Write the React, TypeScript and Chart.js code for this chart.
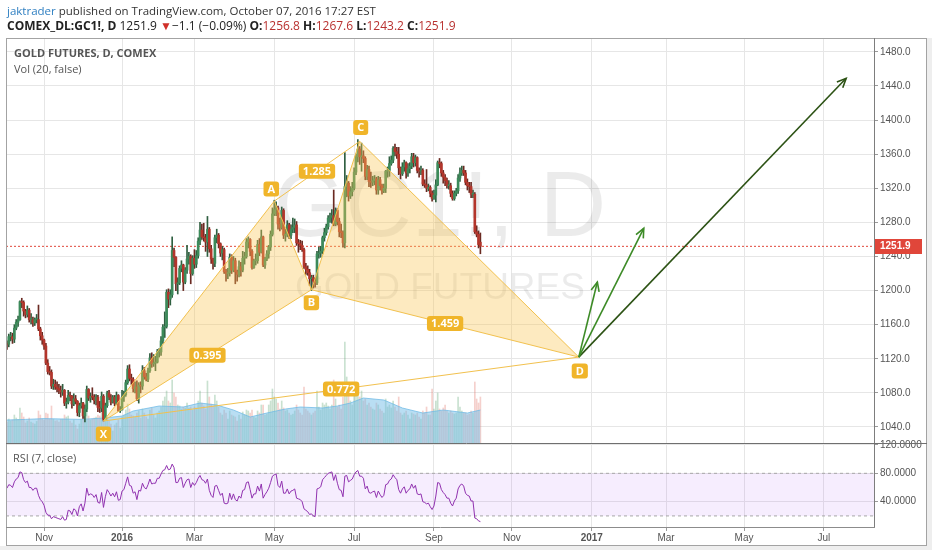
import React, { useEffect, useRef } from 'react';
import { Chart, registerables } from 'chart.js';

Chart.register(...registerables);

// ---------------- data (daily bars, Oct 5 2015 .. Oct 7 2016) ----------------
const opens = [
  1138,1137,1146,1146,1143,1156,1163,1166,1187,1186,1176,1172,1177,1166,1166,1162,1166,1166,1155,1147,
  1142,1135,1115,1105,1104,1088,1090,1087,1085,1083,1081,1083,1068,1069,1077,1076,1067,1073,1070,1057,
  1065,1068,1053,1061,1084,1074,1076,1075,1071,1075,1063,1062,1076,1049,1065,1080,1075,1069,1075,1068,1077,1059,
  1060,1075,1078,1092,1108,1097,1096,1085,1087,1073,1089,1088,1106,1099,1096,1106,1121,1114,1115,
  1116,1128,1128,1141,1157,1158,1198,1190,1195,1247,1239,1208,1209,1226,1230,1210,1224,1237,1240,1220,
  1238,1231,1241,1258,1271,1263,1262,1257,1272,1249,1237,1232,1262,1265,1255,1244,1248,1222,1220,1221,1239,1224,
  1235,1222,1219,1228,1224,1238,1240,1257,1260,1246,1227,1235,1235,1254,1245,1263,1230,1237,1243,1251,1266,
  1290,1295,1297,1278,1274,1294,1265,1266,1277,1265,1272,1274,1277,1256,1255,1253,1248,1228,1225,1221,1214,
  1215,1211,1209,1243,1244,1246,1262,1268,1275,1285,1286,1288,1278,1294,1281,1269,1268,1256,1322,1326,1311,1316,
  1320,1339,1357,1366,1357,1358,1355,1334,1342,1328,1327,1329,1331,1318,1330,1323,1317,1320,1340,1341,
  1349,1353,1367,1363,1360,1344,1337,1345,1350,1338,1343,1346,1357,1350,1356,1341,1340,1341,1325,1324,1320,1321,1314,
  1308,1312,1324,1350,1349,1338,1333,1329,1323,1323,1314,1308,1314,1317,1332,1338,1341,1338,1327,1323,1322,
  1313,1313,1269,1266,1256.8,
];
const highs = [
  1141,1149,1151,1150,1160,1166,1170,1188,1191,1188,1178,1182,1179,1173,1169,1168,1172,1183,1157,1151,
  1143,1138,1119,1111,1107,1096,1095,1093,1090,1088,1090,1084,1074,1083,1081,1077,1079,1077,1071,1068,
  1074,1069,1066,1088,1085,1080,1086,1078,1078,1077,1070,1081,1078,1068,1082,1083,1078,1077,1077,1081,1078,1064,
  1083,1082,1095,1112,1113,1102,1098,1093,1094,1092,1093,1112,1110,1103,1109,1126,1127,1125,1123,
  1131,1132,1146,1160,1175,1201,1202,1201,1263,1250,1240,1215,1229,1235,1231,1227,1253,1245,1242,1241,
  1248,1247,1262,1280,1278,1279,1266,1287,1274,1253,1238,1265,1272,1267,1256,1252,1250,1225,1226,1243,1242,1240,
  1238,1224,1235,1233,1246,1245,1261,1263,1261,1248,1237,1243,1259,1261,1271,1264,1239,1247,1253,1270,1297,
  1306,1304,1299,1285,1298,1296,1272,1282,1279,1277,1285,1284,1281,1260,1259,1258,1250,1232,1229,1225,1218,
  1218,1215,1246,1251,1252,1264,1273,1278,1288,1291,1295,1318,1297,1296,1285,1278,1270,1362,1335,1328,1322,1327,
  1344,1360,1377,1369,1373,1364,1357,1347,1346,1339,1334,1335,1333,1334,1333,1325,1325,1341,1345,1357,
  1358,1369,1372,1368,1368,1345,1350,1353,1351,1349,1350,1361,1361,1359,1357,1344,1346,1343,1330,1342,1325,1323,1317,
  1318,1330,1352,1355,1351,1341,1336,1332,1329,1326,1317,1317,1320,1336,1344,1346,1346,1341,1331,1327,1327,
  1318,1315,1276,1270,1267.6,
];
const lows = [
  1131,1134,1141,1138,1139,1154,1158,1165,1180,1170,1168,1169,1163,1161,1158,1159,1162,1153,1142,1137,
  1131,1113,1102,1101,1085,1084,1084,1081,1079,1075,1077,1065,1062,1067,1071,1062,1065,1067,1053,1052,
  1062,1050,1046,1058,1071,1069,1072,1067,1066,1058,1057,1058,1047,1049,1063,1072,1066,1068,1065,1066,1058,1057,
  1060,1070,1076,1090,1094,1090,1081,1080,1071,1068,1080,1084,1096,1094,1093,1104,1110,1111,1106,
  1115,1122,1124,1138,1145,1156,1180,1183,1192,1228,1200,1196,1207,1222,1200,1208,1220,1231,1208,1218,
  1226,1227,1238,1254,1260,1258,1246,1240,1245,1232,1225,1228,1256,1250,1240,1236,1220,1211,1214,1217,1220,1222,
  1208,1211,1216,1217,1222,1231,1238,1250,1241,1225,1226,1230,1232,1241,1244,1228,1226,1235,1238,1247,1264,
  1288,1288,1272,1270,1272,1261,1258,1263,1261,1261,1268,1268,1253,1245,1248,1246,1226,1219,1218,1206,1200,
  1203,1204,1207,1238,1239,1243,1258,1265,1272,1280,1279,1276,1276,1277,1263,1262,1251,1250,1310,1305,1308,1311,
  1318,1336,1351,1348,1340,1350,1330,1330,1322,1321,1323,1324,1313,1313,1318,1313,1315,1315,1333,1334,
  1347,1350,1358,1355,1336,1331,1335,1340,1332,1334,1338,1343,1345,1346,1338,1333,1336,1323,1321,1316,1317,1310,1305,
  1307,1304,1323,1344,1334,1326,1323,1320,1319,1310,1306,1306,1311,1314,1328,1335,1335,1324,1318,1315,1309,
  1309,1267,1263,1250,1243.2,
];
const closes = [
  1137,1146,1146,1143,1156,1163,1166,1187,1186,1176,1172,1177,1166,1166,1162,1166,1166,1155,1147,1142,
  1135,1115,1105,1104,1088,1090,1087,1085,1083,1081,1083,1068,1069,1077,1076,1067,1073,1070,1057,1065,
  1068,1053,1061,1084,1074,1076,1075,1071,1075,1063,1062,1076,1049,1065,1080,1075,1069,1075,1068,1077,1059,1060,
  1075,1078,1092,1108,1097,1096,1085,1087,1073,1089,1088,1106,1099,1096,1106,1121,1114,1115,1116,
  1128,1128,1141,1157,1158,1198,1190,1195,1247,1239,1208,1209,1226,1230,1210,1224,1237,1240,1220,1238,
  1231,1241,1258,1271,1263,1262,1257,1272,1249,1237,1232,1262,1265,1255,1244,1248,1222,1220,1221,1239,1224,1235,
  1222,1219,1228,1224,1238,1240,1257,1260,1246,1227,1235,1235,1254,1245,1263,1230,1237,1243,1251,1266,1290,
  1295,1297,1278,1274,1294,1265,1266,1277,1265,1272,1274,1277,1256,1255,1253,1248,1228,1225,1221,1214,1215,
  1211,1209,1243,1244,1246,1262,1268,1275,1285,1286,1288,1278,1294,1281,1269,1268,1256,1322,1326,1311,1316,1320,
  1339,1357,1366,1357,1358,1355,1334,1342,1328,1327,1329,1331,1318,1330,1323,1317,1320,1340,1341,1349,
  1353,1367,1363,1360,1344,1337,1345,1350,1338,1343,1346,1357,1350,1356,1341,1340,1341,1325,1324,1320,1321,1314,1308,
  1312,1324,1350,1349,1338,1333,1329,1323,1323,1314,1308,1314,1317,1332,1338,1341,1338,1327,1323,1322,1313,
  1313,1269,1266,1254,1251.9,
];
// volume, thousands of contracts
const volumes = [
  105,120,110,115,140,125,118,175,150,130,100,110,125,105,100,95,108,160,140,120,
  115,150,145,120,185,118,110,112,105,118,120,140,130,135,110,100,115,90,70,95,
  120,140,160,190,135,115,120,125,130,140,135,175,185,150,120,110,95,60,90,100,115,75,
  130,140,165,195,170,140,135,130,150,160,125,170,150,130,120,165,175,140,125,
  150,160,180,210,230,260,210,200,315,250,230,190,185,170,180,175,200,175,180,165,
  180,175,210,260,200,185,170,310,230,195,185,240,210,180,150,140,165,150,120,160,140,135,
  130,110,140,120,155,140,165,160,150,165,130,125,160,150,190,190,140,145,190,210,270,
  230,220,200,170,210,175,160,165,150,140,145,160,190,165,150,140,280,170,160,150,140,
  150,160,260,180,165,200,190,200,185,170,190,315,220,180,190,170,230,505,330,240,210,190,
  260,250,300,230,260,210,220,190,200,180,170,165,200,190,170,160,150,220,180,190,
  175,210,180,160,230,150,140,150,160,140,120,150,145,140,150,130,120,160,150,180,140,140,270,
  170,210,250,170,160,175,190,160,150,160,150,145,150,230,180,160,150,150,140,145,160,
  150,305,220,200,230,
];
// Vol (20) moving-average curve, read at a few bars
const volMaIdx = [0, 10, 20, 30, 40, 52, 62, 68, 82, 95, 104, 113, 122, 131, 140, 150, 158, 170, 178, 185, 192, 203, 213, 224, 235, 248, 255];
const volMaVal = [115, 118, 122, 120, 118, 125, 135, 160, 185, 180, 200, 190, 165, 130, 150, 170, 180, 175, 185, 200, 225, 215, 175, 150, 165, 150, 165];
// RSI (7, close)
const rsiValues = [
  59,64,63,60,68,72,74,82,81,71,67,69,60,60,56,59,59,49,43,40,
  35,25,21,21,16,19,18,17,16,15,19,14,15,28,27,22,30,28,20,33,
  37,27,38,59,49,51,50,46,50,39,38,53,32,47,57,53,48,52,47,54,42,43,
  55,57,66,75,63,62,52,54,43,56,55,66,60,58,64,72,65,66,66,
  73,73,79,84,85,91,85,86,93,88,67,67,73,74,60,66,71,72,60,67,
  63,67,73,77,71,70,66,72,56,49,46,62,63,56,49,52,38,37,38,52,43,51,
  43,41,48,45,56,57,67,68,57,45,51,51,62,55,65,45,50,54,59,67,76,
  78,79,63,60,69,52,52,58,51,55,56,58,45,44,43,40,30,28,26,22,23,
  20,19,58,59,61,71,74,77,80,81,82,70,78,66,57,56,47,76,77,68,70,72,
  78,82,84,76,76,73,58,62,53,52,54,55,46,55,50,46,49,64,65,70,
  72,78,74,71,57,52,58,61,52,56,58,65,59,63,51,50,51,40,39,37,38,33,29,
  34,48,67,66,57,53,50,45,45,38,34,41,45,58,63,65,62,52,49,48,41,
  41,17,16,13,12,
];
const rsiBand = [20, 80];

// axis ticks
const xTickIdx = [20, 62, 101, 144, 187, 230, 272, 315, 355, 397, 440];
const xTickLabels = ['Nov', '2016', 'Mar', 'May', 'Jul', 'Sep', 'Nov', '2017', 'Mar', 'May', 'Jul'];
const xBoldLabels = ['2016', '2017'];
const priceTicks = [1040, 1080, 1120, 1160, 1200, 1240, 1280, 1320, 1360, 1400, 1440, 1480];
const rsiTicks = [40, 80, 120];
const lastPrice = 1251.9;

// harmonic pattern X A B C D
const patternNames = ['X', 'A', 'B', 'C', 'D'];
const patternIdx = [52, 144, 164, 190, 308];
const patternPrice = [1047, 1305, 1201, 1375, 1122];
const ratioText = ['0.395', '1.285', '1.459', '0.772'];
const ratioFrom = [0, 1, 2, 0];
const ratioTo = [2, 3, 4, 4];
// projection arrows from D
const arrowTipIdx = [318, 343, 452];
const arrowTipPrice = [1210, 1273, 1449];
const arrowColors = ['#3d8b27', '#3d8b27', '#2c5214'];

const X_MIN = -0.5;
const X_MAX = 467;

const AXIS_FONT = '"Liberation Sans", Arial, sans-serif';
const UI_FONT = '"Open Sans", "Liberation Sans", sans-serif';
const UP = '#3c8a5a';
const DOWN = '#b3352b';
const PAT_LINE = '#f2c14e';
const PAT_FILL = 'rgba(250,200,90,0.38)';
const TAG = '#f0b52a';

function tag(ctx: any, text: string, cx: number, cy: number) {
  ctx.font = 'bold 11px ' + UI_FONT;
  const w = Math.max(15, ctx.measureText(text).width + 8);
  const h = 15;
  const x = cx - w / 2, y = cy - h / 2, r = 3;
  ctx.beginPath();
  ctx.moveTo(x + r, y);
  ctx.lineTo(x + w - r, y);
  ctx.quadraticCurveTo(x + w, y, x + w, y + r);
  ctx.lineTo(x + w, y + h - r);
  ctx.quadraticCurveTo(x + w, y + h, x + w - r, y + h);
  ctx.lineTo(x + r, y + h);
  ctx.quadraticCurveTo(x, y + h, x, y + h - r);
  ctx.lineTo(x, y + r);
  ctx.quadraticCurveTo(x, y, x + r, y);
  ctx.closePath();
  ctx.fillStyle = TAG;
  ctx.fill();
  ctx.fillStyle = '#ffffff';
  ctx.textAlign = 'center';
  ctx.textBaseline = 'middle';
  ctx.fillText(text, cx, cy + 0.5);
}

const decorPlugin = {
  id: 'decor',
  beforeDraw(chart: any) {
    const ctx = chart.ctx;
    ctx.save();
    ctx.fillStyle = '#ffffff';
    ctx.fillRect(0, 0, chart.width, chart.height);
    ctx.fillStyle = '#eeeeee';
    ctx.fillRect(927, 38, chart.width - 927, chart.height - 38);
    ctx.fillRect(0, 546, chart.width, chart.height - 546);
    ctx.restore();
  },
  beforeDatasetsDraw(chart: any) {
    const ctx = chart.ctx;
    const ys = chart.scales.y;
    const area = chart.chartArea;
    const cx = (area.left + area.right) / 2;
    const cy = (ys.top + ys.bottom) / 2;
    ctx.save();
    ctx.beginPath();
    ctx.rect(area.left, ys.top, area.right - area.left, ys.bottom - ys.top);
    ctx.clip();
    ctx.fillStyle = 'rgba(0,0,0,0.08)';
    ctx.textAlign = 'center';
    ctx.textBaseline = 'middle';
    ctx.font = '92px ' + AXIS_FONT;
    ctx.fillText('GC1!, D', cx, cy - 30);
    ctx.font = '37px ' + AXIS_FONT;
    ctx.fillText('GOLD FUTURES', cx, cy + 48);
    ctx.restore();
  },
  afterDatasetsDraw(chart: any) {
    const ctx = chart.ctx;
    const xs = chart.scales.x;
    const ys = chart.scales.y;
    const px = patternIdx.map((v) => xs.getPixelForValue(v));
    const py = patternPrice.map((v) => ys.getPixelForValue(v));
    ctx.save();
    // arrow heads
    arrowTipIdx.forEach((ti, k) => {
      const tx = xs.getPixelForValue(ti);
      const ty = ys.getPixelForValue(arrowTipPrice[k]);
      const ang = Math.atan2(ty - py[4], tx - px[4]);
      ctx.strokeStyle = arrowColors[k];
      ctx.lineWidth = 1.6;
      ctx.beginPath();
      ctx.moveTo(tx - 10 * Math.cos(ang - 0.42), ty - 10 * Math.sin(ang - 0.42));
      ctx.lineTo(tx, ty);
      ctx.lineTo(tx - 10 * Math.cos(ang + 0.42), ty - 10 * Math.sin(ang + 0.42));
      ctx.stroke();
    });
    // ratio tags
    ratioText.forEach((t, k) => {
      const a = ratioFrom[k], b = ratioTo[k];
      tag(ctx, t, (px[a] + px[b]) / 2, (py[a] + py[b]) / 2);
    });
    // point tags
    const dxs = [0, -3, 0, 1, 1];
    const dys = [13, -12, 13, -14, 14];
    patternNames.forEach((nm, k) => tag(ctx, nm, px[k] + dxs[k], py[k] + dys[k]));
    ctx.restore();
  },
  afterDraw(chart: any) {
    const ctx = chart.ctx;
    const ys = chart.scales.y;
    const area = chart.chartArea;
    ctx.save();
    ctx.lineWidth = 1;
    // outer frame
    ctx.strokeStyle = '#a3a3a3';
    ctx.strokeRect(6.5, 38.5, 920, 507);
    // price axis divider
    ctx.strokeStyle = '#7d7d7d';
    ctx.beginPath();
    ctx.moveTo(area.right + 0.5, 38);
    ctx.lineTo(area.right + 0.5, area.bottom + 1);
    ctx.stroke();
    // pane separator
    ctx.strokeStyle = '#6f6f6f';
    ctx.beginPath();
    ctx.moveTo(6, ys.bottom + 0.5);
    ctx.lineTo(927, ys.bottom + 0.5);
    ctx.stroke();
    // time axis line
    ctx.strokeStyle = '#8c8c8c';
    ctx.beginPath();
    ctx.moveTo(6, area.bottom + 0.5);
    ctx.lineTo(area.right + 1, area.bottom + 0.5);
    ctx.stroke();
    // last price label
    const y = ys.getPixelForValue(lastPrice);
    ctx.fillStyle = '#e0463a';
    ctx.fillRect(area.right + 1, Math.round(y) - 7, 47, 15);
    ctx.fillStyle = '#ffffff';
    ctx.font = 'bold 10px ' + AXIS_FONT;
    ctx.textAlign = 'left';
    ctx.textBaseline = 'middle';
    ctx.fillText(lastPrice.toFixed(1), area.right + 6, Math.round(y) + 0.5);
    ctx.restore();
  },
};

export default function App() {
  const canvasRef = useRef<HTMLCanvasElement | null>(null);

  useEffect(() => {
    const canvas = canvasRef.current;
    if (!canvas) return;

    const bodies = opens.map((o, i) => ({ x: i, y: [o, closes[i]] }));
    const bodyColors = opens.map((o, i) => (closes[i] >= o ? UP : DOWN));
    const wicks = lows.map((l, i) => ({ x: i, y: [l, highs[i]] }));
    const wickColors = opens.map((o, i) => (closes[i] >= o ? '#2f5f40' : '#6a2a22'));
    const volData = volumes.map((v, i) => ({ x: i, y: v }));
    const volColors = opens.map((o, i) => (closes[i] >= o ? 'rgba(100,170,120,0.35)' : 'rgba(225,120,110,0.35)'));
    const maData = volMaIdx.map((x, k) => ({ x, y: volMaVal[k] }));
    const rsiData = rsiValues.map((v, i) => ({ x: i, y: v }));
    const pt = (k: number) => ({ x: patternIdx[k], y: patternPrice[k] });
    const line = (extra: any) => ({
      type: 'line',
      pointRadius: 0,
      pointHoverRadius: 0,
      borderWidth: 1,
      tension: 0,
      fill: false,
      yAxisID: 'y',
      ...extra,
    });

    const datasets: any[] = [
      line({ data: [{ x: X_MIN, y: rsiBand[1] }, { x: X_MAX, y: rsiBand[1] }], yAxisID: 'rsi', borderColor: '#a8a8a8', borderDash: [3, 3], order: 100 }),
      line({ data: [{ x: X_MIN, y: rsiBand[0] }, { x: X_MAX, y: rsiBand[0] }], yAxisID: 'rsi', borderColor: '#a8a8a8', borderDash: [3, 3], fill: { value: rsiBand[1] }, backgroundColor: 'rgba(150,60,240,0.09)', order: 101 }),
      { type: 'bar', data: volData, yAxisID: 'vol', backgroundColor: volColors, barThickness: 1, grouped: false, order: 90 },
      line({ data: maData, yAxisID: 'vol', borderColor: 'rgba(110,185,230,0.75)', backgroundColor: 'rgba(115,190,232,0.5)', fill: 'origin', order: 85 }),
      line({ data: [{ x: X_MIN, y: lastPrice }, { x: X_MAX, y: lastPrice }], borderColor: '#e0463a', borderDash: [2, 2], order: 80 }),
      { type: 'bar', data: wicks, yAxisID: 'y', backgroundColor: wickColors, barThickness: 1, grouped: false, order: 70 },
      { type: 'bar', data: bodies, yAxisID: 'y', backgroundColor: bodyColors, barThickness: 2, minBarLength: 1, grouped: false, order: 60 },
      line({ data: [pt(0), pt(1), pt(2), pt(0)], borderColor: PAT_LINE, backgroundColor: PAT_FILL, fill: 'shape', order: 40 }),
      line({ data: [pt(2), pt(3), pt(4), pt(2)], borderColor: PAT_LINE, backgroundColor: PAT_FILL, fill: 'shape', order: 41 }),
      line({ data: [pt(1), pt(3)], borderColor: PAT_LINE, order: 30 }),
      line({ data: [pt(0), pt(4)], borderColor: PAT_LINE, order: 31 }),
      ...arrowTipIdx.map((ti, k) =>
        line({ data: [pt(4), { x: ti, y: arrowTipPrice[k] }], borderColor: arrowColors[k], borderWidth: 1.6, order: 20 + k })
      ),
      line({ data: rsiData, yAxisID: 'rsi', borderColor: '#9132b0', borderWidth: 1, order: 10 }),
    ];

    const gridColor = '#e6e6e6';
    const tickFont = { family: AXIS_FONT, size: 10 };

    const chart = new Chart(canvas, {
      type: 'bar',
      data: { datasets },
      plugins: [decorPlugin],
      options: {
        responsive: false,
        maintainAspectRatio: false,
        animation: false,
        devicePixelRatio: 1,
        events: [],
        layout: { padding: { left: 6, top: 38, right: 6, bottom: 5 } },
        plugins: { legend: { display: false }, tooltip: { enabled: false } },
        scales: {
          x: {
            type: 'linear',
            min: X_MIN,
            max: X_MAX,
            offset: false,
            grid: { color: gridColor, offset: false, tickLength: 4, tickColor: '#9a9a9a' },
            border: { display: false },
            afterBuildTicks: (s: any) => {
              s.ticks = xTickIdx.map((v) => ({ value: v }));
            },
            afterFit: (s: any) => {
              s.height = 18;
            },
            ticks: {
              autoSkip: false,
              maxRotation: 0,
              padding: 1,
              color: '#555',
              font: (c: any) => ({
                family: AXIS_FONT,
                size: 10,
                weight: c.tick && xBoldLabels.includes(String(c.tick.label)) ? 'bold' : 'normal',
              }),
              callback: (v: any) => {
                const k = xTickIdx.indexOf(Number(v));
                return k >= 0 ? xTickLabels[k] : '';
              },
            },
          },
          y: {
            type: 'linear',
            position: 'right',
            stack: 'panes',
            stackWeight: 405,
            min: 1021.2,
            max: 1496.3,
            grid: { color: gridColor, tickLength: 4, tickColor: '#9a9a9a' },
            border: { display: false },
            afterBuildTicks: (s: any) => {
              s.ticks = priceTicks.map((v) => ({ value: v }));
            },
            afterFit: (s: any) => {
              s.width = 52;
            },
            ticks: { color: '#555', font: tickFont, padding: 2, callback: (v: any) => Number(v).toFixed(1) },
          },
          rsi: {
            type: 'linear',
            position: 'right',
            stack: 'panes',
            stackWeight: 84,
            min: 4.4,
            max: 122.7,
            grid: { color: gridColor, tickLength: 4, tickColor: '#9a9a9a' },
            border: { display: false },
            afterBuildTicks: (s: any) => {
              s.ticks = rsiTicks.map((v) => ({ value: v }));
            },
            afterFit: (s: any) => {
              s.width = 52;
            },
            ticks: { color: '#555', font: tickFont, padding: 2, callback: (v: any) => Number(v).toFixed(4) },
          },
          vol: {
            type: 'linear',
            position: 'left',
            display: false,
            min: -420,
            max: 2025,
          },
        },
      } as any,
    } as any);

    return () => chart.destroy();
  }, []);

  const red = { color: '#b8312f' };
  return (
    <div style={{ position: 'absolute', left: 0, top: 0, width: 932, height: 550, overflow: 'hidden', background: '#fff' }}>
      <canvas ref={canvasRef} width={932} height={550} style={{ position: 'absolute', left: 0, top: 0, width: 932, height: 550 }} />
      <div style={{ position: 'absolute', left: 7, top: 3, fontFamily: UI_FONT, fontSize: 11.5, lineHeight: '16px', color: '#333', whiteSpace: 'nowrap' }}>
        <span style={{ color: '#2f7fc1' }}>jaktrader</span> published on TradingView.com, October 07, 2016 17:27 EST
      </div>
      <div style={{ position: 'absolute', left: 7, top: 18, fontFamily: UI_FONT, fontSize: 12, lineHeight: '16px', color: '#222', whiteSpace: 'nowrap' }}>
        <b>COMEX_DL:GC1!, D</b> 1251.9 <span style={{ color: '#d0302a' }}>▼</span>−1.1 (−0.09%) <b>O:</b><span style={red}>1256.8</span> <b>H:</b><span style={red}>1267.6</span> <b>L:</b><span style={red}>1243.2</span> <b>C:</b><span style={red}>1251.9</span>
      </div>
      <div style={{ position: 'absolute', left: 14, top: 45, fontFamily: UI_FONT, fontSize: 11, fontWeight: 'bold', lineHeight: '15px', color: '#555', whiteSpace: 'nowrap' }}>
        GOLD FUTURES, D, COMEX
      </div>
      <div style={{ position: 'absolute', left: 14, top: 61, fontFamily: UI_FONT, fontSize: 11, lineHeight: '15px', color: '#555', whiteSpace: 'nowrap' }}>
        Vol (20, false)
      </div>
      <div style={{ position: 'absolute', left: 13, top: 450, fontFamily: UI_FONT, fontSize: 11, lineHeight: '15px', color: '#555', whiteSpace: 'nowrap' }}>
        RSI (7, close)
      </div>
    </div>
  );
}
